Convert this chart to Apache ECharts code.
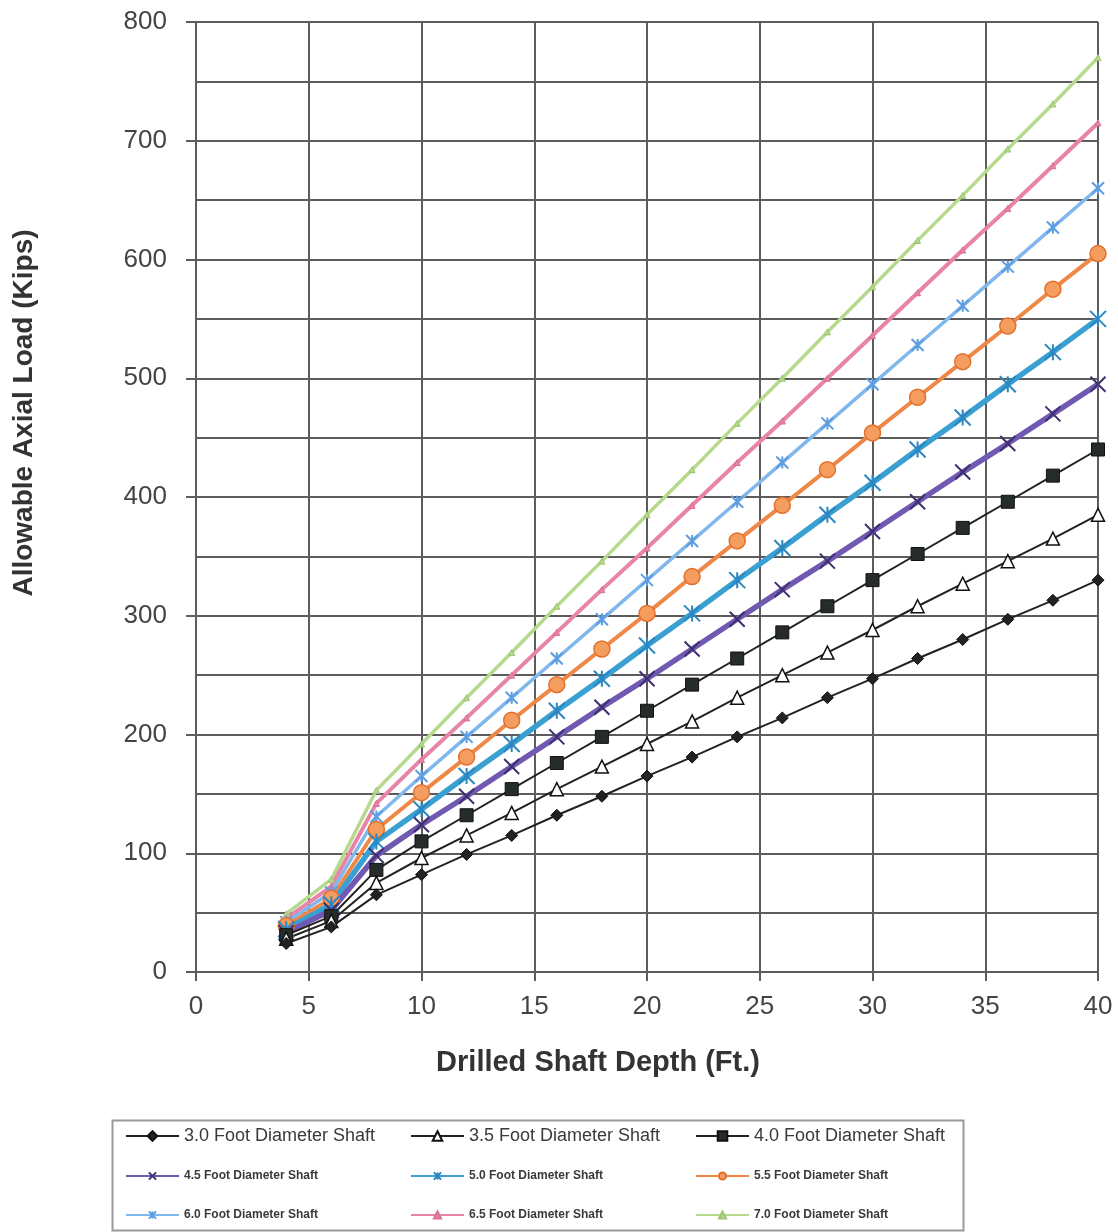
<!DOCTYPE html>
<html>
<head>
<meta charset="utf-8">
<script src="https://cdn.jsdelivr.net/npm/echarts@6/dist/echarts.min.js"></script>
<style>
  html, body { margin: 0; padding: 0; background: #fff; }
  #chart { width: 1118px; height: 1232px; }
</style>
</head>
<body>
<div id="chart"></div>
<script>
// depth (ft) and allowable load (kips)
var depths = [4, 6, 8, 10, 12, 14, 16, 18, 20, 22, 24, 26, 28, 30, 32, 34, 36, 38, 40];

var shaft30 = [24, 38, 65, 82, 99, 115, 132, 148, 165, 181, 198, 214, 231, 247, 264, 280, 297, 313, 330];
var shaft35 = [28, 43, 75, 96, 115, 134, 154, 173, 192, 211, 231, 250, 269, 288, 308, 327, 346, 365, 385];
var shaft40 = [31, 47, 86, 110, 132, 154, 176, 198, 220, 242, 264, 286, 308, 330, 352, 374, 396, 418, 440];
var shaft45 = [33, 52, 98, 124, 148, 173, 198, 223, 247, 272, 297, 322, 346, 371, 396, 421, 445, 470, 495];
var shaft50 = [36, 57, 110, 137, 165, 192, 220, 247, 275, 302, 330, 357, 385, 412, 440, 467, 495, 522, 550];
var shaft55 = [39, 62, 120, 151, 181, 212, 242, 272, 302, 333, 363, 393, 423, 454, 484, 514, 544, 575, 605];
var shaft60 = [42, 67, 131, 165, 198, 231, 264, 297, 330, 363, 396, 429, 462, 495, 528, 561, 594, 627, 660];
var shaft65 = [45, 72, 142, 179, 214, 250, 286, 322, 357, 393, 429, 464, 500, 536, 572, 608, 643, 679, 715];
var shaft70 = [49, 78, 153, 192, 231, 269, 308, 346, 385, 423, 462, 500, 539, 577, 616, 654, 693, 731, 770];

var seriesNames = [
    '3.0 Foot Diameter Shaft', '3.5 Foot Diameter Shaft', '4.0 Foot Diameter Shaft',
    '4.5 Foot Diameter Shaft', '5.0 Foot Diameter Shaft', '5.5 Foot Diameter Shaft',
    '6.0 Foot Diameter Shaft', '6.5 Foot Diameter Shaft', '7.0 Foot Diameter Shaft'
];

var X_MARK = 'path://M0,0L10,10M10,0L0,10';
var STAR_MARK = 'path://M0,0L10,10M10,0L0,10M5,0L5,10';

function pairs(values) {
    var res = [];
    for (var i = 0; i < depths.length; i++) {
        res.push([depths[i], values[i]]);
    }
    return res;
}

function makeSeries(name, values, lineColor, lineWidth, symbol, size, fill, stroke, strokeWidth) {
    return {
        name: name,
        type: 'line',
        data: pairs(values),
        symbol: symbol,
        symbolSize: size,
        showAllSymbol: true,
        lineStyle: { color: lineColor, width: lineWidth },
        itemStyle: { color: fill, borderColor: stroke, borderWidth: strokeWidth },
        emphasis: { disabled: true }
    };
}

var gridColor = '#5c5c5c';
var textColor = '#3a3a3a';
var fontFamily = 'Arial, "Liberation Sans", sans-serif';

// one legend per entry so the 3x3 layout lines up in columns
var legendCols = [125, 410, 695];
var legendRows = [1127, 1170, 1209];
var legends = [];
for (var i = 0; i < seriesNames.length; i++) {
    var row = Math.floor(i / 3);
    var big = row === 0;
    legends.push({
        data: [seriesNames[i]],
        left: legendCols[i % 3],
        top: legendRows[row],
        itemWidth: 53,
        itemHeight: big ? 12 : 9,
        itemGap: 0,
        padding: 0,
        textStyle: {
            fontFamily: fontFamily,
            fontSize: big ? 18 : 12,
            fontWeight: big ? 'normal' : 'bold',
            color: textColor
        }
    });
}

var chart = echarts.init(document.getElementById('chart'));

var option = {
    animation: false,
    backgroundColor: '#fff',
    textStyle: { fontFamily: fontFamily },
    grid: { left: 196, right: 20, top: 22, bottom: 260 },
    legend: legends,
    graphic: [
        {
            type: 'rect',
            left: 110,
            top: 1118,
            shape: { width: 851, height: 110 },
            style: { fill: 'none', stroke: '#9a9a9a', lineWidth: 2 },
            silent: true
        },
        {
            type: 'text',
            x: 598,
            y: 1063,
            style: {
                text: 'Drilled Shaft Depth (Ft.)',
                fontFamily: fontFamily,
                fontSize: 29,
                fontWeight: 'bold',
                fill: '#333',
                align: 'center',
                verticalAlign: 'middle'
            },
            silent: true
        },
        {
            type: 'text',
            x: 24,
            y: 413,
            rotation: Math.PI / 2,
            style: {
                text: 'Allowable Axial Load (Kips)',
                fontFamily: fontFamily,
                fontSize: 28,
                fontWeight: 'bold',
                fill: '#333',
                align: 'center',
                verticalAlign: 'middle'
            },
            silent: true
        }
    ],
    xAxis: {
        type: 'value',
        min: 0,
        max: 40,
        interval: 5,
        axisLine: { show: true, onZero: false, lineStyle: { color: gridColor, width: 2 } },
        axisTick: { show: true, inside: false, length: 9, lineStyle: { color: gridColor, width: 2 } },
        axisLabel: { fontSize: 26, color: '#444', margin: 22 },
        splitLine: { show: true, lineStyle: { color: gridColor, width: 2 } }
    },
    yAxis: {
        type: 'value',
        min: 0,
        max: 800,
        interval: 100,
        axisLine: { show: true, lineStyle: { color: gridColor, width: 2 } },
        axisTick: { show: true, inside: false, length: 10, lineStyle: { color: gridColor, width: 2 } },
        axisLabel: { fontSize: 26, color: '#444', margin: 29 },
        splitLine: { show: true, lineStyle: { color: gridColor, width: 2 } },
        minorTick: { show: false, splitNumber: 2 },
        minorSplitLine: { show: true, lineStyle: { color: gridColor, width: 2 } }
    },
    series: [
        makeSeries(seriesNames[8], shaft70, '#b6d98e', 3.5, 'triangle', 6, '#b6d98e', '#9cc673', 1),
        makeSeries(seriesNames[7], shaft65, '#e884a8', 4, 'triangle', 6, '#e884a8', '#d86f95', 1),
        makeSeries(seriesNames[6], shaft60, '#80b7ec', 3.5, STAR_MARK, 12, '#80b7ec', '#5d9de0', 2),
        makeSeries(seriesNames[5], shaft55, '#ef8746', 4, 'circle', 16, '#f49d5f', '#e2702c', 1.5),
        makeSeries(seriesNames[4], shaft50, '#3a9fd1', 5.5, STAR_MARK, 16, '#3a9fd1', '#2c86c0', 2),
        makeSeries(seriesNames[3], shaft45, '#7158b0', 5.5, X_MARK, 15, '#7158b0', '#3e2f6e', 2),
        makeSeries(seriesNames[2], shaft40, '#222', 2, 'rect', 13, '#262c2a', '#111', 1),
        makeSeries(seriesNames[1], shaft35, '#222', 2, 'triangle', 13, '#fff', '#111', 1.5),
        makeSeries(seriesNames[0], shaft30, '#222', 2, 'diamond', 12, '#222', '#111', 1)
    ]
};

chart.setOption(option);
</script>
</body>
</html>
